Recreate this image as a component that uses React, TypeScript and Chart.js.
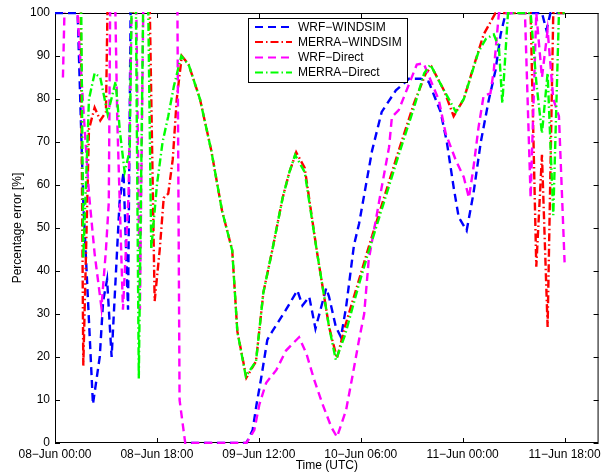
import React, { useEffect, useRef } from "react";
import { Chart, registerables } from "chart.js";
Chart.register(...registerables);

const tickHours = [0, 18, 36, 54, 72, 90];
const tickLabels = ["08\u2212Jun 00:00", "08\u2212Jun 18:00", "09\u2212Jun 12:00", "10\u2212Jun 06:00", "11\u2212Jun 00:00", "11\u2212Jun 18:00"];
const yTickValues = [0, 10, 20, 30, 40, 50, 60, 70, 80, 90, 100];

const seriesNames = ["WRF\u2212WINDSIM", "MERRA\u2212WINDSIM", "WRF\u2212Direct", "MERRA\u2212Direct"];

// hours since 08-Jun 00:00 (UTC) and percentage error; null = no data
const wrfWindsimHours = [0, 4, 5, 6.7, 7.9, 8.5, 9.2, 10, 11.4, 12.1, 12.9, 14, 15, 24, 33.8, 34.9, 35.6, 36.4, 37.5, 38.4, 40.8, 42.8, 43.7, 44.9, 46, 47.9, 48.4, 49.6, 50.5, 51.4, 52.8, 53.7, 56, 57.7, 60.2, 62.5, 64.6, 66, 68.1, 69.2, 70.4, 71.3, 72.7, 73.9, 75.2, 76.6, 77.8, 78.7, 79.6, 86, 86.8, 87.5, 90];
const wrfWindsimValues = [100, 100, 56, 9, 20, 33, 38, 20, 56, 63, 31, 200, null, 0, 0, 3, 9, 15, 24, 26, 31, 35.5, 32, 34, 26.6, 36, 34, 27, 24.6, 31.5, 46, 51, 68, 77, 82, 84.7, 84.7, 84, 77, 70, 59.5, 52.5, 49.4, 58, 70, 79.7, 86.7, 95, 100, 100, 96, 100, 100];

const merraWindsimHours = [4, 5, 6, 7, 8, 9, 9.6, 12, 13.8, 14.5, 16.5, 17.6, 18.5, 19.2, 20, 20.8, 21.5, 22.4, 23.6, 25.6, 27.6, 29.5, 31.3, 32.2, 33.8, 35.5, 36.8, 38.4, 40.2, 41.4, 42.6, 44.1, 46.2, 48.4, 49.8, 51.2, 53.7, 55.5, 60.7, 63.4, 65.5, 66.5, 68.7, 70.4, 72.2, 73.8, 75.7, 77.8, 84, 85, 86, 87, 88, 90];
const merraWindsimValues = [200, 18, 73, 78, 75, 77, 130, 130, 100, 130, 120, 33, 45, 57, 58, 66, 80, 90, 88, 80, 68, 54, 44.8, 26, 15.2, 19, 35, 45, 57, 63, 67.6, 64, 45, 27, 19.7, 27, 38, 46, 68, 79, 86, 87.5, 82, 76, 80, 87, 95, 100, 100, 41, 67, 27, 100, 100];

const wrfDirectHours = [1.4, 2.2, 3.5, 5, 6, 7, 8.2, 9, 9.5, 10, 11, 12, 13, 14, 15, 16, 21, 22, 23, 33.8, 35.2, 36.1, 37.3, 39.1, 40.8, 41.9, 43.1, 44.4, 45.8, 47.2, 48.8, 49.8, 51.4, 52.5, 53.7, 54.6, 55.4, 56, 57.7, 59, 59.5, 60.7, 63.9, 65.1, 67.8, 69, 70.8, 72.2, 73.1, 73.9, 74.8, 75.7, 76.9, 77.5, 78.4, 83, 84, 85, 86, 87, 88, 89, 90];
const wrfDirectValues = [85, 130, 110, 78, 58, 44, 31.5, 45, 56, 150, 75, 31, 58, 140, 31, 150, 250, 10, 0, 0, 3, 9, 14, 17, 21.5, 23, 24.6, 20.8, 14.6, 9.2, 3.7, 1.4, 7.6, 15.3, 24, 30, 42.5, 47, 59.5, 68.8, 75.8, 77.4, 88, 88.3, 79.7, 72, 65.7, 61.8, 57, 64, 73.4, 80.8, 81.3, 86.7, 100, 100, 57, 100, 85, 96, 80, 76, 42];

const merraDirectHours = [4, 5, 6, 7, 8, 9.3, 10.7, 11.5, 12.3, 13.2, 14, 14.8, 16, 17, 18, 19, 20, 21, 22.3, 23.6, 25.6, 27.6, 29.5, 31.3, 32.2, 33.7, 35.5, 36.8, 38.4, 40.2, 41.4, 42.4, 44.1, 46.2, 48.4, 49.6, 51.2, 53.7, 55.5, 60.7, 63.4, 65.2, 66.3, 68.7, 70.8, 72.2, 74.8, 76.1, 77.5, 78.4, 79, 80, 84, 85, 86, 87, 88, 89, 90];
const merraDirectValues = [200, 43, 80, 86, 85, 76.5, 84, 72, 63, 68, 150, 15, 150, 45, 60, 70, 76, 83, 90, 88, 80, 68, 54, 44.8, 26, 15.5, 19, 35, 45, 57, 63, 67, 63, 45, 27, 19.3, 25, 37, 45, 67, 78, 86, 88, 82, 77, 80, 91, 94, 95, 92, 79, 100, 100, 84, 72, 86, 53, 100, 100];

const seriesColors = ["#0000ff", "#ff0000", "#ff00ff", "#00ff00"];
const dashed = [8, 5];
const dashDot = [8, 3, 1.5, 3];
const seriesDash = [dashed, dashDot, dashed, dashDot];

const FONT = "'Liberation Sans', Arial, Helvetica, sans-serif";

function toPoints(hours: number[], values: (number | null)[]) {
  return hours.map((h, i) => ({ x: h, y: values[i] }));
}

const framePlugin = {
  id: "matlabFrame",
  beforeDatasetsDraw(chart: any) {
    const { ctx, chartArea } = chart;
    const { left, right, top, bottom } = chartArea;
    const xs = chart.scales.x;
    const ys = chart.scales.y;
    ctx.save();
    ctx.strokeStyle = "#000";
    ctx.lineWidth = 1;
    ctx.strokeRect(left + 0.5, top + 0.5, right - left - 1, bottom - top - 1);
    ctx.beginPath();
    const tl = 5;
    tickHours.forEach((h) => {
      const px = Math.round(xs.getPixelForValue(h)) + 0.5;
      ctx.moveTo(px, bottom);
      ctx.lineTo(px, bottom - tl);
      ctx.moveTo(px, top);
      ctx.lineTo(px, top + tl);
    });
    yTickValues.forEach((v) => {
      const py = Math.round(ys.getPixelForValue(v)) + 0.5;
      ctx.moveTo(left, py);
      ctx.lineTo(left + tl, py);
      ctx.moveTo(right, py);
      ctx.lineTo(right - tl, py);
    });
    ctx.stroke();
    ctx.restore();
  },
  afterDraw(chart: any) {
    const { ctx, chartArea } = chart;
    ctx.save();
    // axis titles
    ctx.fillStyle = "#000";
    ctx.font = `12px ${FONT}`;
    ctx.textAlign = "center";
    ctx.textBaseline = "middle";
    ctx.fillText("Time (UTC)", (chartArea.left + chartArea.right) / 2, 466);
    ctx.save();
    ctx.translate(18, (chartArea.top + chartArea.bottom) / 2);
    ctx.rotate(-Math.PI / 2);
    ctx.fillText("Percentage error [%]", 0, 0);
    ctx.restore();
    // legend
    const bx = 248.5, by = 18.5, bw = 159, bh = 64;
    ctx.fillStyle = "#fff";
    ctx.fillRect(bx, by, bw, bh);
    ctx.strokeStyle = "#000";
    ctx.lineWidth = 1;
    ctx.strokeRect(bx, by, bw, bh);
    const rowY = [27, 42, 57.5, 72.5];
    chart.data.datasets.forEach((ds: any, i: number) => {
      const y = rowY[i];
      ctx.save();
      ctx.strokeStyle = ds.borderColor;
      ctx.lineWidth = 2;
      ctx.setLineDash(ds.borderDash);
      ctx.beginPath();
      ctx.moveTo(255, y);
      ctx.lineTo(292, y);
      ctx.stroke();
      ctx.restore();
      ctx.fillStyle = "#000";
      ctx.font = `12px ${FONT}`;
      ctx.textAlign = "left";
      ctx.textBaseline = "middle";
      ctx.fillText(ds.label, 298, y + 0.5);
    });
    ctx.restore();
  },
};

export default function App() {
  const canvasRef = useRef<HTMLCanvasElement | null>(null);
  useEffect(() => {
    if (!canvasRef.current) return;
    const seriesData = [
      toPoints(wrfWindsimHours, wrfWindsimValues),
      toPoints(merraWindsimHours, merraWindsimValues),
      toPoints(wrfDirectHours, wrfDirectValues),
      toPoints(merraDirectHours, merraDirectValues),
    ];
    const chart = new Chart(canvasRef.current, {
      type: "line",
      data: {
        datasets: seriesData.map((d, i) => ({
          label: seriesNames[i],
          data: d,
          borderColor: seriesColors[i],
          backgroundColor: seriesColors[i],
          borderWidth: 2.4,
          borderDash: seriesDash[i],
          pointRadius: 0,
          tension: 0,
          fill: false,
          spanGaps: false,
          order: 3 - i,
          clip: { left: 0, right: 0, top: 1, bottom: 1 },
        })),
      },
      options: {
        animation: false,
        responsive: false,
        maintainAspectRatio: false,
        layout: { padding: { top: 13, right: 5, left: 0, bottom: 0 } },
        plugins: { legend: { display: false }, tooltip: { enabled: false }, title: { display: false } },
        scales: {
          x: {
            type: "linear",
            min: 0,
            max: 96,
            grid: { display: false, drawTicks: false },
            border: { display: false },
            afterBuildTicks: (s: any) => {
              s.ticks = tickHours.map((v) => ({ value: v }));
            },
            afterFit: (s: any) => {
              s.height = 33;
            },
            ticks: {
              autoSkip: false,
              maxRotation: 0,
              padding: 4,
              color: "#000",
              font: { family: FONT, size: 12 },
              callback: (v: any) => {
                const i = tickHours.indexOf(Number(v));
                return i >= 0 ? tickLabels[i] : "";
              },
            },
          },
          y: {
            min: 0,
            max: 100,
            grid: { display: false, drawTicks: false },
            border: { display: false },
            afterBuildTicks: (s: any) => {
              s.ticks = yTickValues.map((v) => ({ value: v }));
            },
            afterFit: (s: any) => {
              s.width = 55;
            },
            ticks: {
              padding: 5,
              color: "#000",
              font: { family: FONT, size: 12 },
            },
          },
        },
      },
      plugins: [framePlugin],
    });
    return () => chart.destroy();
  }, []);
  return (
    <div style={{ position: "fixed", left: 0, top: 0, width: 605, height: 476, background: "#fff" }}>
      <canvas ref={canvasRef} width={605} height={476} style={{ width: 605, height: 476 }} />
    </div>
  );
}
